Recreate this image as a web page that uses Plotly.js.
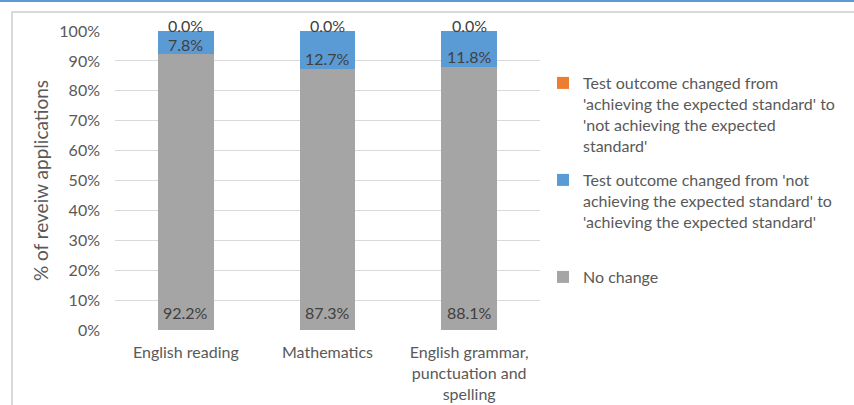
<!DOCTYPE html>
<html>
<head>
<meta charset="utf-8">
<script src="https://cdn.plot.ly/plotly-3.0.1.min.js"></script>
<style>
  html, body { margin: 0; padding: 0; background: #ffffff; }
  #wrap { position: relative; width: 854px; height: 405px; overflow: hidden; }
  #topline { position: absolute; left: 0; top: 0; width: 854px; height: 2px; background: #5b9bd5; }
  #frame { position: absolute; left: 11px; top: 11px; width: 900px; height: 500px;
           border-left: 2px solid #d9d9d9; border-top: 2px solid #d9d9d9; }
  #chart { position: absolute; left: 0; top: 0; width: 854px; height: 405px; }
</style>
</head>
<body>
<div id="wrap">
  <div id="topline"></div>
  <div id="frame"></div>
  <div id="chart"></div>
</div>
<script>
const categories = ["English reading", "Mathematics", "English grammar,<br>punctuation and<br>spelling"];
const noChange = [92.2, 87.3, 88.1];
const notToAchieving = [7.8, 12.7, 11.8];
const achievingToNot = [0.0, 0.0, 0.0];
const yTickVals = [0, 10, 20, 30, 40, 50, 60, 70, 80, 90, 100];
const yTickText = ["0%", "10%", "20%", "30%", "40%", "50%", "60%", "70%", "80%", "90%", "100%"];

const seriesNames = [
  "No change",
  "Test outcome changed from 'not<br>achieving the expected standard' to<br>'achieving the expected standard'",
  "Test outcome changed from<br>'achieving the expected standard' to<br>'not achieving the expected<br>standard'"
];

const FONT = "Lato, 'Open Sans', sans-serif";
const colors = ["#a5a5a5", "#5b9bd5", "#ed7d31"];
const seriesVals = [noChange, notToAchieving, achievingToNot];
const labelShift = [18, 10, 6];
const legendNames = ["legend3", "legend2", "legend"];

const traces = seriesVals.map((vals, i) => ({
  type: "bar",
  name: seriesNames[i],
  x: categories,
  y: vals,
  marker: { color: colors[i] },
  legend: legendNames[i],
  hoverinfo: "skip"
}));

const annotations = [];
for (let c = 0; c < categories.length; c++) {
  let base = 0;
  for (let s = 0; s < seriesVals.length; s++) {
    annotations.push({
      x: categories[c], y: base, xref: "x", yref: "y",
      text: seriesVals[s][c].toFixed(1) + "%",
      showarrow: false, yanchor: "middle", yshift: labelShift[s],
      font: { family: FONT, size: 16, color: "#404040" }
    });
    base += seriesVals[s][c];
  }
}

const legendBase = {
  xref: "container", yref: "container", x: 543 / 854,
  xanchor: "left", yanchor: "top", valign: "top",
  bgcolor: "rgba(0,0,0,0)", borderwidth: 0,
  font: { family: FONT, size: 16, color: "#595959" }
};

const layout = {
  width: 854, height: 405,
  margin: { l: 115, r: 314, t: 31, b: 75, pad: 0 },
  paper_bgcolor: "rgba(0,0,0,0)",
  plot_bgcolor: "rgba(0,0,0,0)",
  barmode: "stack",
  bargap: 0.605,
  font: { family: FONT, size: 16, color: "#595959" },
  xaxis: {
    type: "category", showgrid: false, zeroline: false, showline: false,
    ticks: "", ticklabelstandoff: 11,
    tickfont: { family: FONT, size: 16, color: "#595959" }
  },
  yaxis: {
    range: [0, 100], tickvals: yTickVals, ticktext: yTickText,
    showgrid: true, gridcolor: "#d9d9d9", gridwidth: 1,
    zeroline: false, showline: false, ticks: "",
    tickfont: { family: FONT, size: 16, color: "#595959" },
    ticklabelstandoff: 14,
    title: { text: "% of reveiw applications", standoff: 5,
             font: { family: FONT, size: 19, color: "#595959" } }
  },
  legend: Object.assign({}, legendBase, { y: 1 - 66 / 405 }),
  legend2: Object.assign({}, legendBase, { y: 1 - 163 / 405 }),
  legend3: Object.assign({}, legendBase, { y: 1 - 260 / 405 }),
  annotations: annotations,
  showlegend: true
};

Plotly.newPlot("chart", traces, layout, { displayModeBar: false, staticPlot: true });
</script>
</body>
</html>
